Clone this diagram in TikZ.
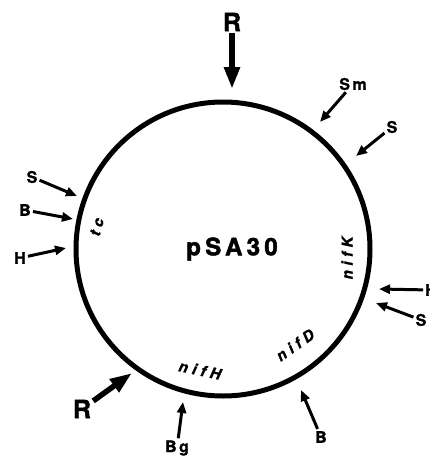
\documentclass[tikz,border=0pt]{standalone}
\usepackage{fontspec}
\setmainfont{TeX Gyre Heros}
\usetikzlibrary{arrows.meta}

\begin{document}
\begin{tikzpicture}[
x=1pt, y=-1pt,
site/.style = {
  font=\bfseries\fontsize{16}{16}\selectfont\addfontfeatures{LetterSpace=15,FakeBold=1.3},
  inner sep=2pt},
bigsite/.style = {
  font=\bfseries\fontsize{25}{25}\selectfont\addfontfeatures{FakeBold=1.6},
  inner sep=2pt},
gene/.style = {
  font=\bfseries\itshape\fontsize{15}{15}\selectfont\addfontfeatures{LetterSpace=30,FakeBold=1.3},
  inner sep=0pt},
plasmid/.style = {
  font=\bfseries\fontsize{24}{24}\selectfont\addfontfeatures{LetterSpace=18,FakeBold=2}},
cut/.style = {draw=black, line width=3pt, -{Triangle[length=11pt,width=9pt]}},
bigcut/.style = {draw=black, line width=5.5pt, -{Triangle[length=22pt,width=15pt]}},
]
\useasboundingbox (0,0) rectangle (430,456);

\coordinate (centre) at (223,249);
\draw[line width=5pt] (centre) circle[radius=147];
\node[plasmid] (name) at (232,249) {pSA30};

% genes
\node[gene, rotate=75] (tc) at (97,227) {tc};
\node[gene, rotate=90] (nifK) at (347,258) {nifK};
\node[gene, rotate=35] (nifD) at (295,345) {nifD};
\node[gene, rotate=-12] (nifH) at (200,370) {nifH};

% sites
\node[bigsite] (R1) at (232,22) {R};
\node[site] (Sm) at (353,84) {Sm};
\node[site] (S1) at (392,127) {S};
\node[site] (S2) at (32,177) {S};
\node[site] (B1) at (25,210) {B};
\node[site] (H1) at (20,258) {H};
\node[site] (H2) at (431,290) {H};
\node[site] (S3) at (421,320) {S};
\node[site] (B2) at (321,437) {B};
\node[site] (Bg) at (177,448) {Bg};
\node[bigsite] (R2) at (82,409) {R};

\coordinate (R1-t) at (232,89);
\coordinate (Sm-t) at (320,122);
\coordinate (S1-t) at (356,156);
\coordinate (S2-t) at (77,196);
\coordinate (B1-t) at (73,219);
\coordinate (H1-t) at (66,248);
\coordinate (H2-t) at (379,289);
\coordinate (S3-t) at (376,303);
\coordinate (B2-t) at (301,390);
\coordinate (Bg-t) at (183,402);
\coordinate (R2-t) at (132,373);

\begin{scope}[every path/.style=cut]
\path (Sm) -- (Sm-t);
\path (S1) -- (S1-t);
\path (S2) -- (S2-t);
\path (B1) -- (B1-t);
\path (H1) -- (H1-t);
\path (H2) -- (H2-t);
\path (S3) -- (S3-t);
\path (B2) -- (B2-t);
\path (Bg) -- (Bg-t);
\end{scope}
\path[bigcut] (R1) -- (R1-t);
\path[bigcut] (R2) -- (R2-t);

\end{tikzpicture}
\end{document}
